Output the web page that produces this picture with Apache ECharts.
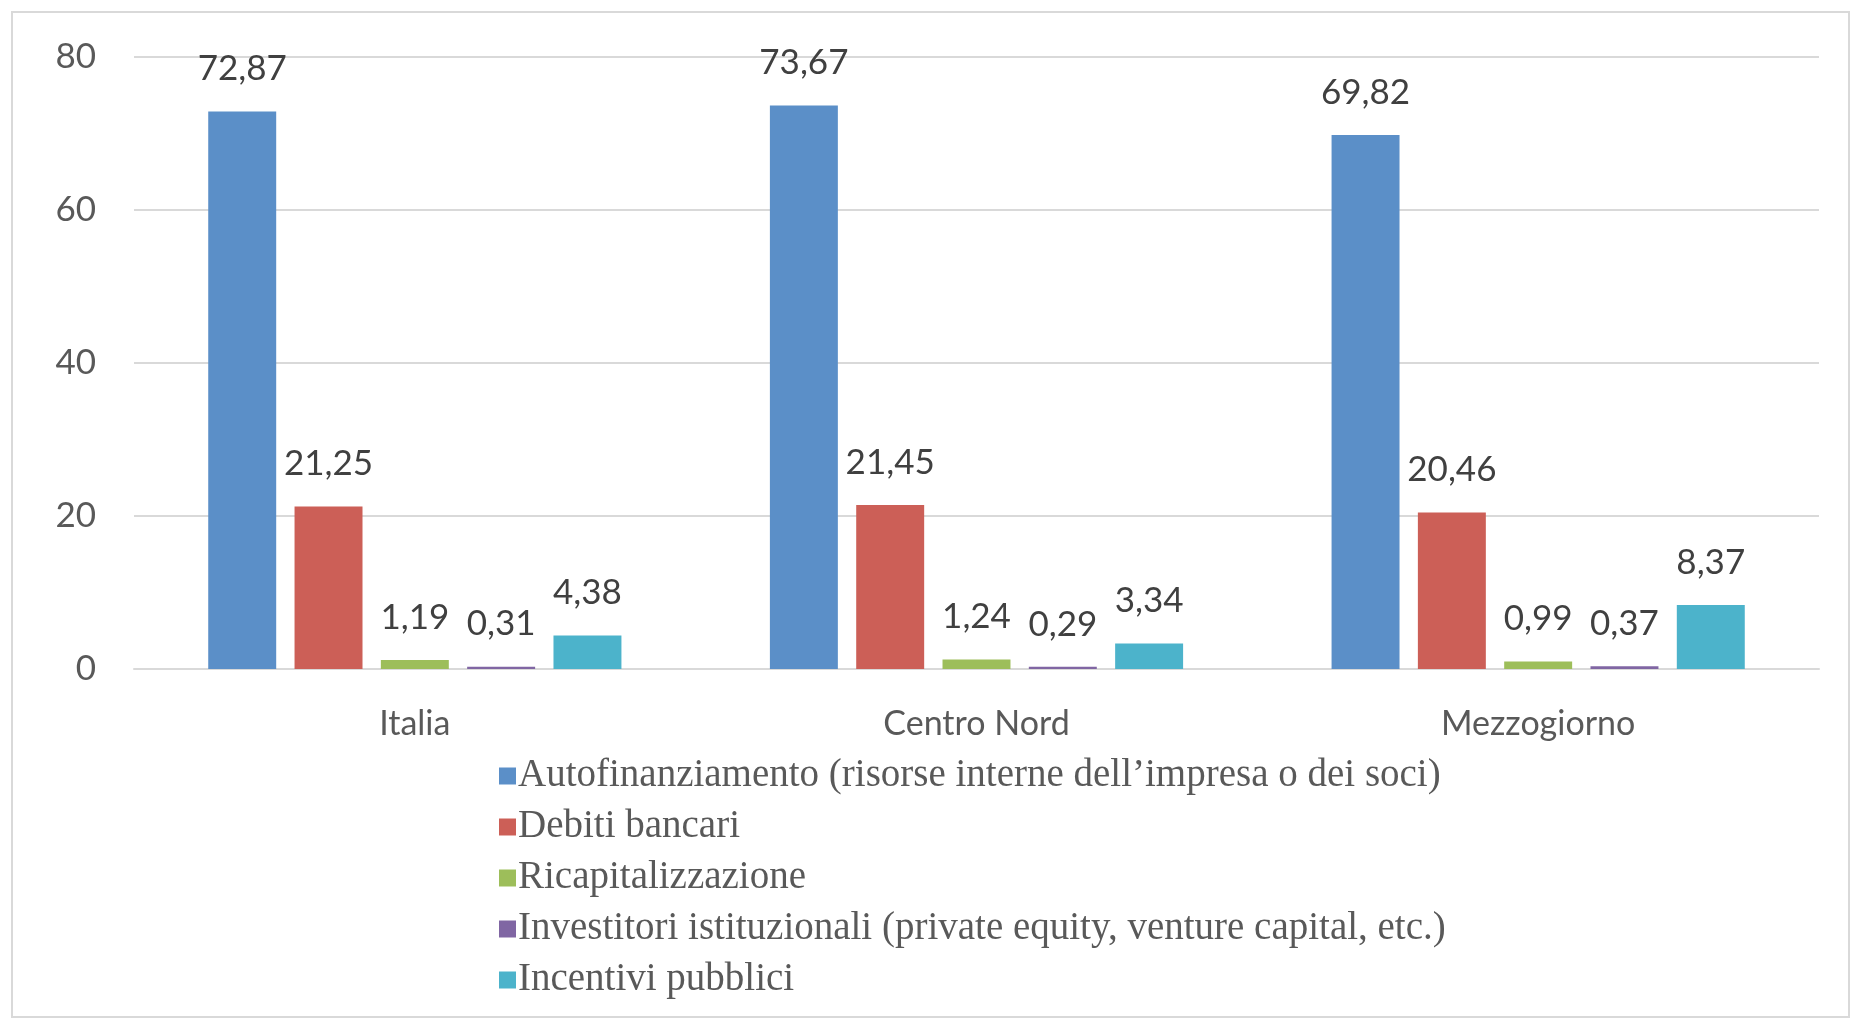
<!DOCTYPE html>
<html><head><meta charset="utf-8">
<script src="https://cdn.jsdelivr.net/npm/echarts@6/dist/echarts.min.js"></script>
<style>html,body{margin:0;padding:0;background:#fff}#c{width:1865px;height:1020px}</style>
</head><body><div id="c"></div>
<script>
const categories = ['Italia', 'Centro Nord', 'Mezzogiorno'];
const seriesNames = [
  'Autofinanziamento (risorse interne dell\u2019impresa o dei soci)',
  'Debiti bancari',
  'Ricapitalizzazione',
  'Investitori istituzionali (private equity, venture capital, etc.)',
  'Incentivi pubblici'
];
const autofinanziamento = [72.87, 73.67, 69.82];
const debitiBancari = [21.25, 21.45, 20.46];
const ricapitalizzazione = [1.19, 1.24, 0.99];
const investitori = [0.31, 0.29, 0.37];
const incentivi = [4.38, 3.34, 8.37];
const yTicks = [0, 20, 40, 60, 80];
const colors = ['#5B8FC8', '#CC5F57', '#9DBE5A', '#8066A3', '#4CB3CB'];

const values = [autofinanziamento, debitiBancari, ricapitalizzazione, investitori, incentivi];
const numFont = 'Lato, "Open Sans", sans-serif';
const chart = echarts.init(document.getElementById('c'));
chart.setOption({
  animation: false,
  color: colors,
  graphic: [{type:'rect', shape:{x:12, y:12, width:1837, height:1005}, style:{fill:'none', stroke:'#D9D9D9', lineWidth:2}}],
  grid: {left:134, right:46, top:57, bottom:351},
  legend: {
    orient:'vertical', left:494, top:751, itemWidth:17, itemHeight:17, itemGap:11,
    icon:'rect',
    textStyle:{fontFamily:'"Liberation Serif", serif', fontSize:39, color:'#595959', lineHeight:40, padding:[0,0,0,-3]},
    data: seriesNames
  },
  xAxis: {
    type:'category', data:categories,
    axisLine:{lineStyle:{color:'#D9D9D9', width:2}}, axisTick:{show:false},
    axisLabel:{fontFamily:numFont, fontSize:34, color:'#595959', margin:38}
  },
  yAxis: {
    type:'value', min:yTicks[0], max:yTicks[yTicks.length-1], interval:20,
    axisLine:{show:false}, axisTick:{show:false},
    splitLine:{lineStyle:{color:'#D9D9D9', width:2}},
    axisLabel:{fontFamily:numFont, fontSize:35, color:'#595959', margin:38}
  },
  series: seriesNames.map((n, i) => ({
    name:n, type:'bar', data:values[i], barWidth:'12.1%', barGap:'27%',
    label:{show:true, position:'top', distance:25, fontFamily:numFont, fontSize:35, color:'#404040',
      formatter: p => p.value.toFixed(2).replace('.', ',')}
  }))
});
</script></body></html>
